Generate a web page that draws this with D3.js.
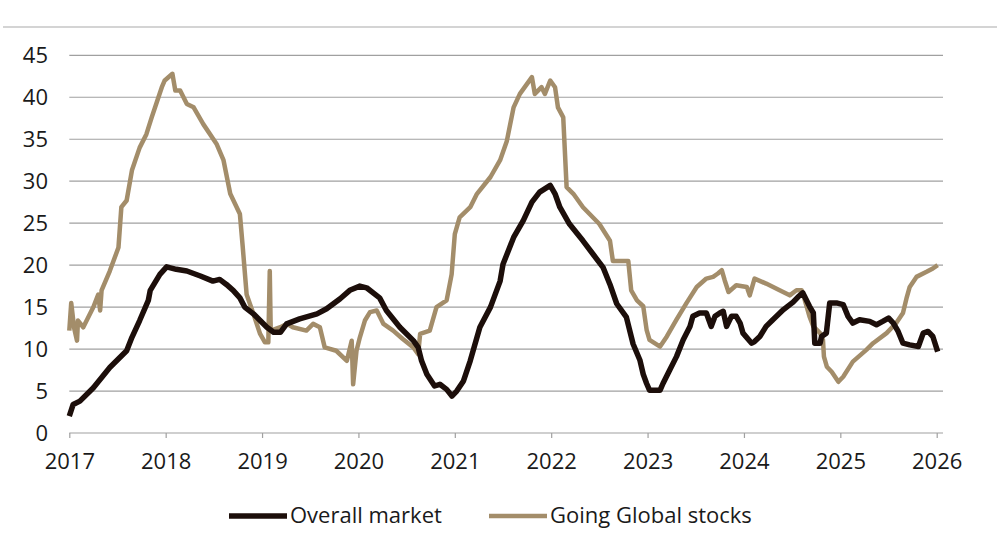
<!DOCTYPE html>
<html>
<head>
<meta charset="utf-8">
<script src="https://cdn.jsdelivr.net/npm/d3@7"></script>
<style>
  body { margin: 0; background: #fff; }
  svg { display: block; font-family: "Open Sans", sans-serif; }
</style>
</head>
<body>
<svg class="chart" width="1003" height="543"></svg>
<script>
const WIDTH = 1003;
const HEIGHT = 543;

// [decimal year, value]
const overallMarket = [
  [2017.00, 2.0], [2017.04, 3.4], [2017.11, 3.8], [2017.25, 5.4], [2017.42, 7.8],
  [2017.595, 9.8], [2017.65, 11.4], [2017.73, 13.4], [2017.82, 15.8], [2017.84, 17.0],
  [2017.94, 18.9], [2018.01, 19.8], [2018.11, 19.5], [2018.22, 19.3], [2018.36, 18.7],
  [2018.49, 18.1], [2018.56, 18.3], [2018.63, 17.7], [2018.70, 17.0], [2018.77, 16.1],
  [2018.82, 15.0], [2018.91, 14.2], [2018.98, 13.4], [2019.05, 12.6], [2019.12, 12.0],
  [2019.19, 12.0], [2019.255, 13.0], [2019.39, 13.6], [2019.57, 14.2], [2019.67, 14.8],
  [2019.81, 16.0], [2019.91, 17.0], [2020.015, 17.5], [2020.085, 17.3], [2020.22, 16.1],
  [2020.29, 14.6], [2020.43, 12.6], [2020.57, 11.0], [2020.62, 10.2], [2020.655, 8.6],
  [2020.71, 7.0], [2020.79, 5.6], [2020.845, 5.8], [2020.915, 5.2], [2020.97, 4.4],
  [2021.02, 5.0], [2021.09, 6.2], [2021.16, 8.6], [2021.26, 12.6], [2021.37, 15.0],
  [2021.47, 18.1], [2021.50, 20.1], [2021.61, 23.3], [2021.71, 25.3], [2021.80, 27.5],
  [2021.88, 28.7], [2021.99, 29.5], [2022.04, 28.5], [2022.09, 26.9], [2022.19, 24.9],
  [2022.33, 22.9], [2022.435, 21.3], [2022.54, 19.7], [2022.61, 17.7], [2022.68, 15.4],
  [2022.78, 13.8], [2022.85, 10.6], [2022.92, 8.7], [2022.955, 7.0], [2022.99, 5.9],
  [2023.02, 5.1], [2023.13, 5.1], [2023.16, 5.9], [2023.23, 7.5], [2023.30, 9.1],
  [2023.37, 11.1], [2023.44, 12.7], [2023.47, 13.9], [2023.54, 14.3], [2023.61, 14.3],
  [2023.66, 12.7], [2023.70, 13.9], [2023.75, 14.3], [2023.785, 14.5], [2023.82, 12.7],
  [2023.87, 13.9], [2023.92, 13.9], [2023.96, 13.1], [2023.99, 11.9], [2024.08, 10.7],
  [2024.11, 10.9], [2024.165, 11.5], [2024.23, 12.7], [2024.30, 13.5], [2024.41, 14.7],
  [2024.51, 15.6], [2024.56, 16.2], [2024.61, 16.7], [2024.645, 15.9], [2024.68, 15.1],
  [2024.72, 14.3], [2024.735, 10.7], [2024.79, 10.7], [2024.805, 11.5], [2024.855, 11.9],
  [2024.89, 15.5], [2024.96, 15.5], [2025.03, 15.3], [2025.08, 13.9], [2025.13, 13.1],
  [2025.20, 13.5], [2025.305, 13.3], [2025.375, 12.9], [2025.44, 13.3], [2025.50, 13.7],
  [2025.55, 13.1], [2025.60, 12.1], [2025.65, 10.7], [2025.72, 10.5], [2025.81, 10.3],
  [2025.86, 11.9], [2025.91, 12.1], [2025.96, 11.5], [2026.01, 9.7]
];

const goingGlobal = [
  [2017.00, 12.2], [2017.02, 15.5], [2017.05, 12.5], [2017.08, 11.0], [2017.09, 13.4],
  [2017.145, 12.6], [2017.25, 15.0], [2017.30, 16.5], [2017.32, 14.6], [2017.335, 17.0],
  [2017.42, 19.3], [2017.51, 22.1], [2017.54, 26.9], [2017.595, 27.7], [2017.65, 31.3],
  [2017.73, 34.0], [2017.80, 35.6], [2017.855, 37.6], [2017.925, 40.0], [2017.96, 41.2],
  [2017.99, 42.0], [2018.07, 42.8], [2018.10, 40.8], [2018.15, 40.8], [2018.22, 39.2],
  [2018.29, 38.8], [2018.39, 36.8], [2018.53, 34.4], [2018.60, 32.5], [2018.67, 28.5],
  [2018.77, 26.1], [2018.80, 22.1], [2018.84, 16.5], [2018.91, 14.2], [2018.98, 11.8],
  [2019.03, 10.8], [2019.065, 10.8], [2019.08, 19.3], [2019.09, 12.2], [2019.19, 12.6],
  [2019.26, 13.0], [2019.32, 12.6], [2019.46, 12.2], [2019.53, 13.0], [2019.60, 12.6],
  [2019.65, 10.2], [2019.77, 9.8], [2019.88, 8.6], [2019.93, 11.0], [2019.945, 5.8],
  [2019.98, 9.8], [2020.015, 11.4], [2020.067, 13.4], [2020.12, 14.4], [2020.19, 14.6],
  [2020.26, 13.0], [2020.36, 12.2], [2020.46, 11.2], [2020.57, 10.2], [2020.62, 9.4],
  [2020.64, 11.8], [2020.74, 12.2], [2020.81, 15.0], [2020.915, 15.8], [2020.967, 18.9],
  [2021.00, 23.7], [2021.05, 25.7], [2021.16, 26.9], [2021.23, 28.5], [2021.37, 30.5],
  [2021.47, 32.5], [2021.54, 34.8], [2021.61, 38.8], [2021.675, 40.4], [2021.80, 42.4],
  [2021.83, 40.4], [2021.90, 41.2], [2021.935, 40.4], [2021.99, 42.0], [2022.04, 41.2],
  [2022.07, 38.8], [2022.125, 37.6], [2022.16, 29.3], [2022.23, 28.5], [2022.33, 26.9],
  [2022.50, 24.9], [2022.61, 22.9], [2022.64, 20.5], [2022.80, 20.5], [2022.83, 17.0],
  [2022.89, 15.8], [2022.955, 15.1], [2022.99, 12.3], [2023.02, 11.1], [2023.13, 10.3],
  [2023.20, 11.5], [2023.30, 13.5], [2023.405, 15.5], [2023.51, 17.4], [2023.61, 18.4],
  [2023.68, 18.6], [2023.73, 19.0], [2023.77, 19.4], [2023.80, 18.2], [2023.84, 16.8],
  [2023.92, 17.6], [2024.03, 17.4], [2024.06, 16.4], [2024.11, 18.4], [2024.23, 17.8],
  [2024.37, 17.0], [2024.475, 16.4], [2024.545, 17.0], [2024.60, 17.0], [2024.63, 15.9],
  [2024.68, 13.9], [2024.72, 12.7], [2024.79, 11.9], [2024.82, 11.1], [2024.83, 9.1],
  [2024.86, 7.9], [2024.91, 7.3], [2024.98, 6.1], [2025.03, 6.7], [2025.13, 8.5],
  [2025.27, 9.9], [2025.34, 10.7], [2025.48, 11.9], [2025.58, 13.1], [2025.65, 14.3],
  [2025.69, 16.2], [2025.72, 17.4], [2025.79, 18.6], [2025.895, 19.2], [2025.96, 19.6],
  [2026.01, 20.0]
];

const yearTicks = [2017, 2018, 2019, 2020, 2021, 2022, 2023, 2024, 2025, 2026];
const valueTicks = [0, 5, 10, 15, 20, 25, 30, 35, 40, 45];
const seriesNames = ['Overall market', 'Going Global stocks'];
const seriesColors = ['#1c0e0a', '#a38d6a'];

const svg = d3.select('.chart');

const x = d3.scaleLinear().domain([2017, 2026]).range([69.3, 936.7]);
const y = d3.scaleLinear().domain([0, 45]).range([433, 55.3]);

// thin rule along the top
svg.append('line')
  .attr('x1', 3).attr('x2', 997)
  .attr('y1', 27).attr('y2', 27)
  .attr('stroke', '#d4d4d4')
  .attr('stroke-width', 2);

// horizontal gridlines
svg.append('g')
  .selectAll('line')
  .data(valueTicks.filter((v) => v > 0))
  .enter()
  .append('line')
  .attr('x1', x(2017)).attr('x2', 943)
  .attr('y1', (d) => y(d)).attr('y2', (d) => y(d))
  .attr('stroke', '#a0a0a0')
  .attr('stroke-width', 1.2);

// y labels
svg.append('g')
  .selectAll('text')
  .data(valueTicks)
  .enter()
  .append('text')
  .attr('x', 48)
  .attr('y', (d) => y(d))
  .attr('dy', '0.36em')
  .attr('text-anchor', 'end')
  .style('font-size', '22px')
  .style('fill', '#1a1a1a')
  .text((d) => d);

// x axis
const xAxis = d3.axisBottom(x)
  .tickValues(yearTicks)
  .tickFormat(d3.format('d'))
  .tickSize(5)
  .tickSizeOuter(0);

const axisG = svg.append('g')
  .attr('transform', `translate(0, ${y(0)})`)
  .call(xAxis);
axisG.select('.domain').remove();
axisG.append('line')
  .attr('x1', x(2017)).attr('x2', 943)
  .attr('stroke', '#a0a0a0')
  .attr('stroke-width', 1.2);
axisG.selectAll('.tick line').attr('stroke', '#a0a0a0').attr('stroke-width', 1.2);
axisG.selectAll('.tick text')
  .attr('y', 20)
  .attr('dy', '0.71em')
  .style('font-family', '"Open Sans", sans-serif')
  .style('font-size', '22px')
  .style('fill', '#1a1a1a');

// lines
const line = d3.line()
  .x((d) => x(d[0]))
  .y((d) => y(d[1]));

svg.append('path')
  .datum(goingGlobal)
  .attr('d', line)
  .attr('fill', 'none')
  .attr('stroke', seriesColors[1])
  .attr('stroke-width', 4.5)
  .attr('stroke-linejoin', 'round');

svg.append('path')
  .datum(overallMarket)
  .attr('d', line)
  .attr('fill', 'none')
  .attr('stroke', seriesColors[0])
  .attr('stroke-width', 5.5)
  .attr('stroke-linejoin', 'round');

// legend
const legendX = [229, 489];
const legend = svg.append('g')
  .selectAll('g')
  .data(seriesNames)
  .enter()
  .append('g')
  .attr('transform', (d, i) => `translate(${legendX[i]}, 516)`);

legend.append('line')
  .attr('x1', 0).attr('x2', 58)
  .attr('stroke', (d, i) => seriesColors[i])
  .attr('stroke-width', (d, i) => (i === 0 ? 5.5 : 4.5));

legend.append('text')
  .attr('x', 61)
  .attr('dy', '0.33em')
  .style('font-size', '22px')
  .style('fill', '#1a1a1a')
  .text((d) => d);
</script>
</body>
</html>
